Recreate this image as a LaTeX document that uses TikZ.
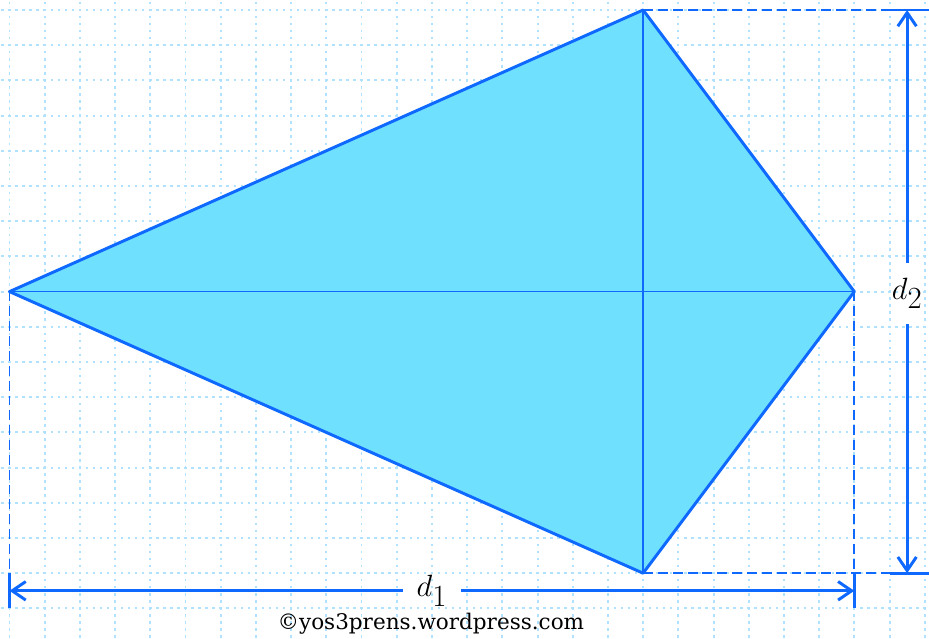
\documentclass[tikz,border=0pt]{standalone}
\usepackage{fontspec}
\newfontfamily\wmfont{DejaVu Serif}
\usetikzlibrary{arrows.meta}
\definecolor{kiteblue}{RGB}{15,105,255}
\definecolor{kitefill}{RGB}{112,224,255}
\definecolor{gridblue}{RGB}{176,226,255}
\tikzset{
  gridline/.style={gridblue, line width=1.6pt, dash pattern=on 2pt off 3.69pt, dash phase=1pt},
  kiteedge/.style={kiteblue, line width=2.4pt, line join=round},
  diag/.style={kiteblue, line width=1.2pt},
  guide/.style={kiteblue, line width=1.4pt, dash pattern=on 8pt off 4pt},
  startbarb/.style={{Straight Barb[length=11pt,width=15pt,line width=2.4pt]}-},
  endbarb/.style={-{Straight Barb[length=11pt,width=15pt,line width=2.4pt]}},
  dimline/.style={kiteblue, line width=2.4pt},
  tick/.style={kiteblue, line width=2.4pt},
  dimlabel/.style={inner xsep=11pt, inner ysep=12pt, font=\fontsize{35}{40}\selectfont}
}
\begin{document}
\begin{tikzpicture}
\useasboundingbox (-0.27,0.284) rectangle (26.122,-17.841);
\fill[white] (-0.27,0.284) rectangle (26.122,-17.841);
% grid
\foreach \x in {-1,...,27} \draw[gridline] (\x,1) -- (\x,-19);
\foreach \y in {1,...,-19} \draw[gridline] (-1,\y) -- (27,\y);
% kite vertices
\coordinate (L) at (0,-8);
\coordinate (T) at (18,0);
\coordinate (R) at (24,-8);
\coordinate (B) at (18,-16);
\fill[kitefill] (L) -- (T) -- (R) -- (B) -- cycle;
\draw[diag] (L) -- (R);
\draw[diag] (T) -- (B);
\draw[kiteedge] (L) -- (T) -- (R) -- (B) -- cycle;
% guides
\coordinate (Lb) at (0,-16);
\coordinate (Rb) at (24,-16);
\coordinate (Tr) at (25,0);
\coordinate (Br) at (25,-16);
\draw[guide] (L) -- (Lb);
\draw[guide] (R) -- (Rb);
\draw[guide] (T) -- (Tr);
\draw[guide] (B) -- (Br);
% ticks
\coordinate (d1a) at (0,-16);
\coordinate (d1b) at (0,-17);
\coordinate (d1c) at (24,-16);
\coordinate (d1d) at (24,-17);
\draw[tick] (d1a) -- (d1b);
\draw[tick] (d1c) -- (d1d);
\coordinate (d2a) at (25,0);
\coordinate (d2b) at (26.2,0);
\coordinate (d2c) at (25,-16);
\coordinate (d2d) at (26.2,-16);
\draw[tick] (d2a) -- (d2b);
\draw[tick] (d2c) -- (d2d);
% labels
\node[dimlabel] (dA) at (12,-16.5) {$d_1$};
\node[dimlabel] (dB) at (25.5,-8.05) {$d_2$};
% dimension lines
\coordinate (e1) at (0,-16.5);
\coordinate (e2) at (24,-16.5);
\coordinate (f1) at (25.5,0);
\coordinate (f2) at (25.5,-16);
\draw[dimline, startbarb] (e1) -- (dA.west);
\draw[dimline, endbarb] (dA.east) -- (e2);
\draw[dimline, startbarb] (f1) -- (f1 |- dB.north);
\draw[dimline, endbarb] (f2 |- dB.south) -- (f2);
% watermark
\node[anchor=base, inner sep=0pt, font=\wmfont\fontsize{17.4}{20}\selectfont] (wm) at (11.97,-17.61) {©yos3prens.wordpress.com};
\end{tikzpicture}
\end{document}
